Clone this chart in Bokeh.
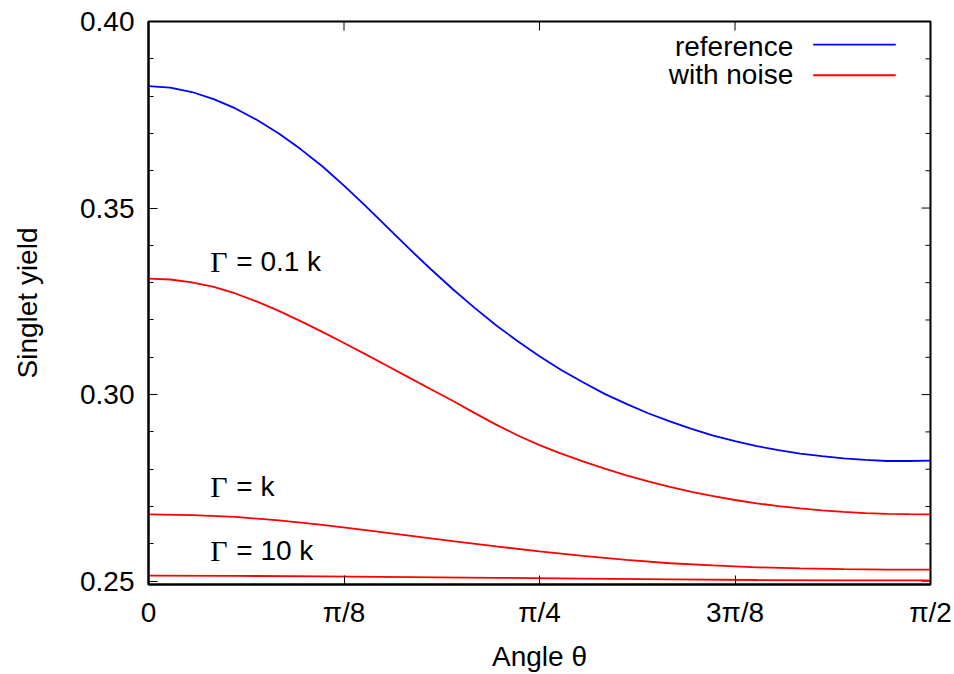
from bokeh.plotting import figure
from bokeh.models import Range1d, FixedTicker, ColumnDataSource
from bokeh.core.properties import value
from bokeh.embed import file_html
from bokeh.resources import INLINE

# ---------------- data (angle in degrees, 90 = pi/2) ----------------
theta_fine = [0, 2.5, 5, 7.5, 10, 12.5, 15, 17.5, 20, 22.5, 25, 27.5, 30, 32.5, 35,
              37.5, 40, 42.5, 45, 47.5, 50, 52.5, 55, 57.5, 60, 62.5, 65, 67.5, 70,
              72.5, 75, 77.5, 80, 82.5, 85, 87.5, 90]
reference = [0.3827, 0.3823, 0.3811, 0.3792, 0.3767, 0.3736, 0.3700, 0.3658, 0.3612,
             0.3560, 0.3505, 0.3448, 0.3391, 0.3336, 0.3283, 0.3233, 0.3186, 0.3143,
             0.3103, 0.3066, 0.3033, 0.3002, 0.2975, 0.2950, 0.2928, 0.2908, 0.2890,
             0.2875, 0.2862, 0.2851, 0.2842, 0.2835, 0.2829, 0.2825, 0.2822, 0.2822,
             0.2823]
noise_01k = [0.33110, 0.33085, 0.33010, 0.32885, 0.32710, 0.32492, 0.32243, 0.31970,
             0.31682, 0.31383, 0.31078, 0.30768, 0.30455, 0.30142, 0.29835, 0.29510,
             0.29195, 0.28905, 0.28645, 0.28417, 0.28208, 0.28015, 0.27837, 0.27675,
             0.27527, 0.27395, 0.27277, 0.27175, 0.27085, 0.27010, 0.26948, 0.26895,
             0.26855, 0.26825, 0.26805, 0.26795, 0.26792]
theta_coarse = [0, 5, 10, 15, 20, 25, 30, 35, 40, 45, 50, 55, 60, 65, 70, 75, 80, 85, 90]
noise_1k = [0.2679, 0.2677, 0.2672, 0.2663, 0.2651, 0.2637, 0.2622, 0.2607, 0.2593,
            0.2580, 0.2568, 0.2557, 0.2548, 0.2542, 0.2537, 0.2534, 0.2532, 0.2531,
            0.2531]
theta_10k = [0, 10, 20, 30, 40, 50, 60, 70, 80, 90]
noise_10k = [0.2515, 0.2514, 0.2513, 0.2511, 0.2509, 0.2507, 0.2505, 0.2503, 0.2502,
             0.2502]

x_ticks = [0, 22.5, 45, 67.5, 90]
x_tick_labels = ["0", "π/8", "π/4", "3π/8", "π/2"]
y_ticks = [0.25, 0.30, 0.35, 0.40]
y_tick_labels = ["0.25", "0.30", "0.35", "0.40"]
y_minor_ticks = [0.26, 0.27, 0.28, 0.29, 0.31, 0.32, 0.33, 0.34, 0.36, 0.37, 0.38, 0.39]

series_names = ["reference", "with noise"]
series_colors = ["#0000ff", "#ff0000"]

gamma_symbol = "Γ"
gamma_rest = ["= 0.1 k", "= k", "= 10 k"]
gamma_label_y = [0.3356, 0.2753, 0.2582]

SANS = "Liberation Sans"
SERIF = "Liberation Serif"
FS = "28px"

X0, X1, Y0, Y1 = 0, 90, 0.2491, 0.40

# ---------------- figure ----------------
p = figure(width=954, height=674, output_backend="svg", toolbar_location=None,
           x_range=Range1d(X0, X1), y_range=Range1d(Y0, Y1),
           min_border_left=148, min_border_right=24, min_border_top=21,
           min_border_bottom=90, background_fill_color="white",
           border_fill_color="white")
p.xgrid.visible = False
p.ygrid.visible = False
p.outline_line_color = "black"
p.outline_line_width = 2

xt = FixedTicker(ticks=x_ticks, minor_ticks=[])
yt = FixedTicker(ticks=y_ticks, minor_ticks=y_minor_ticks)


def style_axis(ax, ticker, labels, ticks):
    ax.ticker = ticker
    ax.major_label_overrides = {t: l for t, l in zip(ticks, labels)}
    ax.major_tick_in = 9
    ax.major_tick_out = 0
    ax.minor_tick_in = 5
    ax.minor_tick_out = 0
    ax.major_tick_line_color = "black"
    ax.minor_tick_line_color = "black"
    ax.axis_line_color = "black"
    ax.axis_line_width = 2
    ax.major_label_text_font = SANS
    ax.major_label_text_font_size = FS
    ax.major_label_text_color = "black"
    ax.axis_label_text_font = SANS
    ax.axis_label_text_font_size = FS
    ax.axis_label_text_font_style = "normal"
    ax.axis_label_text_color = "black"


style_axis(p.xaxis[0], xt, x_tick_labels, x_ticks)
style_axis(p.yaxis[0], yt, y_tick_labels, y_ticks)
p.xaxis[0].axis_label = "Angle θ"
p.yaxis[0].axis_label = "Singlet yield"
p.xaxis[0].major_label_standoff = 12
p.yaxis[0].major_label_standoff = 14
p.xaxis[0].axis_label_standoff = 10
p.yaxis[0].axis_label_standoff = 34

# mirrored ticks on the top and right edges of the frame (inward)
maj_dx = 9 * (X1 - X0) / 782
min_dx = 5 * (X1 - X0) / 782
maj_dy = 9 * (Y1 - Y0) / 563
p.segment(x0=[X1] * len(y_ticks), x1=[X1 - maj_dx] * len(y_ticks), y0=y_ticks,
          y1=y_ticks, line_color="black", line_width=1)
p.segment(x0=[X1] * len(y_minor_ticks), x1=[X1 - min_dx] * len(y_minor_ticks),
          y0=y_minor_ticks, y1=y_minor_ticks, line_color="black", line_width=1)
p.segment(x0=x_ticks, x1=x_ticks, y0=[Y1] * len(x_ticks), y1=[Y1 - maj_dy] * len(x_ticks),
          line_color="black", line_width=1)

# ---------------- curves ----------------
p.line(theta_fine, reference, line_color=series_colors[0], line_width=1.8)
p.line(theta_fine, noise_01k, line_color=series_colors[1], line_width=1.8)
p.line(theta_coarse, noise_1k, line_color=series_colors[1], line_width=1.8)
p.line(theta_10k, noise_10k, line_color=series_colors[1], line_width=1.8)

# ---------------- curve labels ----------------
greek_x = 7.1
rest_x = 10.1
src_g = ColumnDataSource(dict(x=[greek_x] * len(gamma_rest), y=gamma_label_y,
                              t=[gamma_symbol] * len(gamma_rest)))
src_r = ColumnDataSource(dict(x=[rest_x] * len(gamma_rest), y=gamma_label_y, t=gamma_rest))
p.text(x="x", y="y", text="t", source=src_g, text_font=value(SERIF),
       text_font_size="30px", text_baseline="alphabetic", text_align="left",
       text_color="black")
p.text(x="x", y="y", text="t", source=src_r, text_font=value(SANS),
       text_font_size=FS, text_baseline="alphabetic", text_align="left",
       text_color="black")

# ---------------- key (gnuplot style: text left of sample) ----------------
key_text_x = 74.2
key_line_x0, key_line_x1 = 76.5, 86.0
key_text_y = [0.3933, 0.3858]
key_line_y = [0.3938, 0.3856]
p.text(x=[key_text_x] * 2, y=key_text_y, text=series_names, text_font=value(SANS),
       text_font_size=FS, text_baseline="alphabetic", text_align="right",
       text_color="black")
p.segment(x0=[key_line_x0] * 2, x1=[key_line_x1] * 2, y0=key_line_y, y1=key_line_y,
          line_color=series_colors, line_width=1.8)

open("out.html", "w").write(file_html(p, INLINE))
